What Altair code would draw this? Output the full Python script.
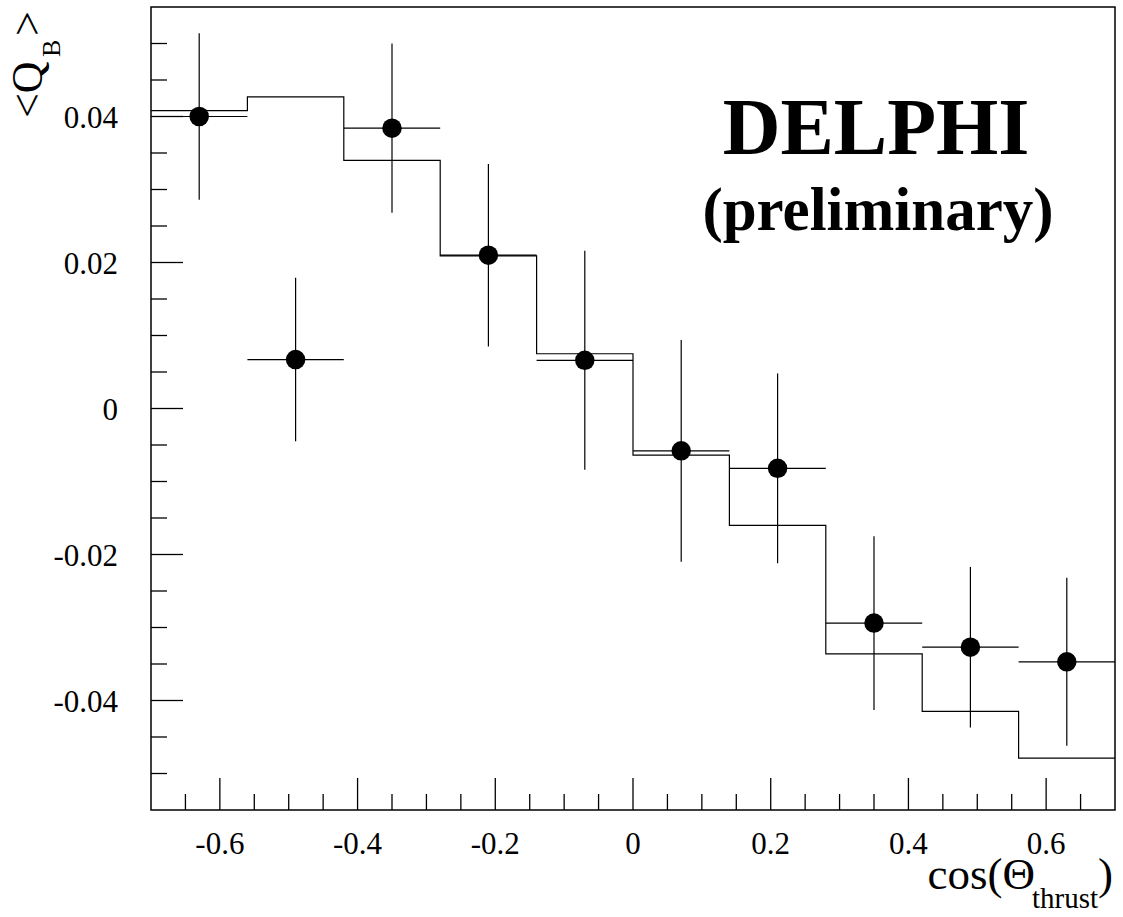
import altair as alt
import pandas as pd

# ---- data ----
bin_edges = [-0.7, -0.56, -0.42, -0.28, -0.14, 0.0, 0.14, 0.28, 0.42, 0.56, 0.7]
bin_centers = [-0.63, -0.49, -0.35, -0.21, -0.07, 0.07, 0.21, 0.35, 0.49, 0.63]
qb_data = [0.0400, 0.0067, 0.0384, 0.0210, 0.0066, -0.0058, -0.0082, -0.0294, -0.0327, -0.0347]
qb_err = [0.0114, 0.0112, 0.0116, 0.0125, 0.0150, 0.0152, 0.0130, 0.0119, 0.0110, 0.0115]
qb_mc = [0.0408, 0.0427, 0.0340, 0.0209, 0.0075, -0.0064, -0.0160, -0.0336, -0.0415, -0.0479]

x_major = [-0.6, -0.4, -0.2, 0.0, 0.2, 0.4, 0.6]
x_major_labels = ["-0.6", "-0.4", "-0.2", "0", "0.2", "0.4", "0.6"]
x_minor = [-0.65, -0.55, -0.5, -0.45, -0.35, -0.3, -0.25, -0.15, -0.1, -0.05,
           0.05, 0.1, 0.15, 0.25, 0.3, 0.35, 0.45, 0.5, 0.55, 0.65]
y_major = [-0.04, -0.02, 0.0, 0.02, 0.04]
y_major_labels = ["-0.04", "-0.02", "0", "0.02", "0.04"]
y_minor = [-0.05, -0.045, -0.035, -0.03, -0.025, -0.015, -0.01, -0.005,
           0.005, 0.01, 0.015, 0.025, 0.03, 0.035, 0.045, 0.05]

W, H = 964, 803
FONT = "Liberation Serif"

xscale = alt.Scale(domain=[-0.7, 0.7], nice=False, zero=False)
yscale = alt.Scale(domain=[-0.055, 0.055], nice=False, zero=False)

# histogram (MC expectation) as a step line
hist_df = pd.DataFrame({"x": bin_edges[:-1] + [bin_edges[-1]], "y": qb_mc + [qb_mc[-1]]})
hist = alt.Chart(hist_df).mark_line(interpolate="step-after", color="black", strokeWidth=1.2).encode(
    x=alt.X("x:Q", scale=xscale, axis=None),
    y=alt.Y("y:Q", scale=yscale, axis=None),
)

pts_df = pd.DataFrame({
    "x": bin_centers,
    "y": qb_data,
    "lo": [v - e for v, e in zip(qb_data, qb_err)],
    "hi": [v + e for v, e in zip(qb_data, qb_err)],
    "xlo": bin_edges[:-1],
    "xhi": bin_edges[1:],
})

vbar = alt.Chart(pts_df).mark_rule(color="black", strokeWidth=1.2).encode(
    x=alt.X("x:Q", scale=xscale, axis=None),
    y=alt.Y("lo:Q", scale=yscale, axis=None),
    y2="hi:Q",
)
hbar = alt.Chart(pts_df).mark_rule(color="black", strokeWidth=1.2).encode(
    x=alt.X("xlo:Q", scale=xscale, axis=None),
    x2="xhi:Q",
    y=alt.Y("y:Q", scale=yscale, axis=None),
)
pts = alt.Chart(pts_df).mark_circle(size=380, color="black", opacity=1).encode(
    x=alt.X("x:Q", scale=xscale, axis=None),
    y=alt.Y("y:Q", scale=yscale, axis=None),
)

# inward ticks
def yticks(vals, length):
    return alt.Chart(pd.DataFrame({"v": vals})).mark_rule(color="black", strokeWidth=1.3).encode(
        y=alt.Y("v:Q", scale=yscale, axis=None), x=alt.value(0), x2=alt.value(length))

def xticks(vals, length):
    return alt.Chart(pd.DataFrame({"v": vals})).mark_rule(color="black", strokeWidth=1.3).encode(
        x=alt.X("v:Q", scale=xscale, axis=None), y=alt.value(H), y2=alt.value(H - length))

# tick labels
xlab = alt.Chart(pd.DataFrame({"v": x_major, "t": x_major_labels})).mark_text(
    font=FONT, fontSize=31, align="center", baseline="alphabetic", color="black").encode(
    x=alt.X("v:Q", scale=xscale, axis=None), y=alt.value(H + 44), text="t:N")
ylab = alt.Chart(pd.DataFrame({"v": y_major, "t": y_major_labels})).mark_text(
    font=FONT, fontSize=31, align="right", baseline="alphabetic", dy=11, color="black").encode(
    y=alt.Y("v:Q", scale=yscale, axis=None), x=alt.value(-33), text="t:N")

def label(text, x, y, size, weight="normal", align="left", angle=0, baseline="alphabetic"):
    return alt.Chart(pd.DataFrame({"t": [text]})).mark_text(
        font=FONT, fontSize=size, fontWeight=weight, align=align, baseline=baseline,
        angle=angle, color="black").encode(text="t:N", x=alt.value(x), y=alt.value(y))

OX, OY = 151, 7  # plot origin in page pixels

texts = [
    label("DELPHI", 876 - OX, 154 - OY, 80, "bold", "center"),
    label("(preliminary)", 878 - OX, 230 - OY, 61, "bold", "center"),
    # y title  <Q_B>
    label("<Q", 42 - OX, 118 - OY, 44, angle=270),
    label("B", 60 - OX, 57 - OY, 26, angle=270),
    label(">", 42 - OX, 36 - OY, 44, angle=270),
    # x title  cos(Θ_thrust)
    label(")", 1113 - OX, 889 - OY, 45, align="right"),
    label("thrust", 1098 - OX, 908 - OY, 29, align="right"),
    label("cos(\u0398", 1035 - OX, 889 - OY, 45, align="right"),
]

chart = alt.layer(
    hist, vbar, hbar, pts,
    yticks(y_major, 32), yticks(y_minor, 16),
    xticks(x_major, 32), xticks(x_minor, 16),
    xlab, ylab,
    *texts,
).properties(
    width=W, height=H,
    autosize=alt.AutoSizeParams(type="none"),
    padding={"left": OX, "top": OY, "right": 1123 - OX - W, "bottom": 917 - OY - H},
    background="white",
).configure_view(stroke="black", strokeWidth=1.5)

chart.save("out.html", embed_options={"renderer": "svg", "actions": False})
